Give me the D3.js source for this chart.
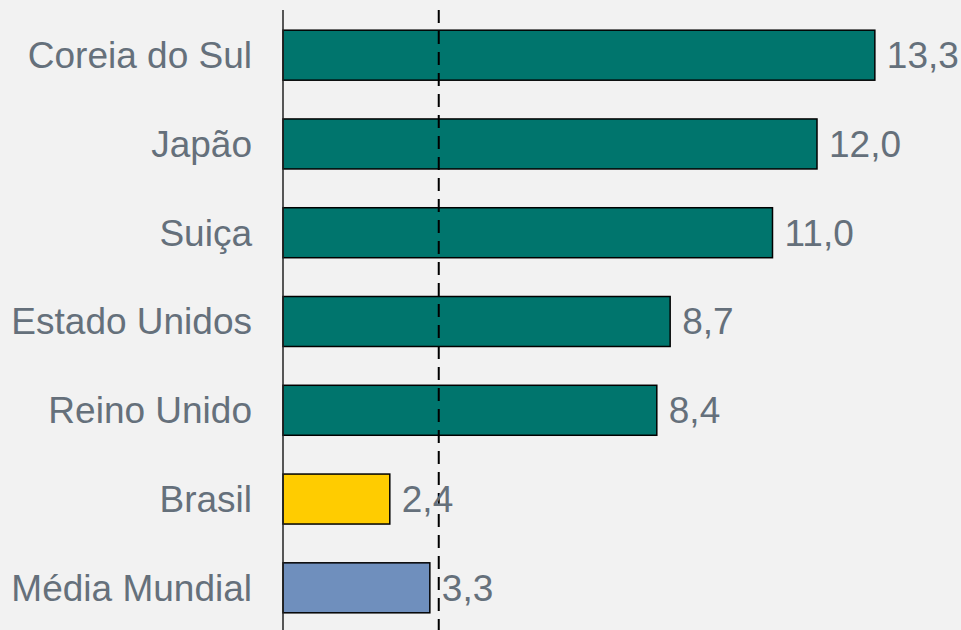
<!DOCTYPE html>
<html>
<head>
<meta charset="utf-8">
<script src="https://cdn.jsdelivr.net/npm/d3@7"></script>
<style>
  body { margin: 0; background: #f2f2f2; }
  svg { display: block; }
</style>
</head>
<body>
<div id="chart"></div>
<script>
var countries = ["Coreia do Sul", "Japão", "Suiça", "Estado Unidos", "Reino Unido", "Brasil", "Média Mundial"];
var values = [13.3, 12.0, 11.0, 8.7, 8.4, 2.4, 3.3];
var barColors = ["#00756d", "#00756d", "#00756d", "#00756d", "#00756d", "#ffcc00", "#6f8fbd"];
var referenceValue = 3.5;

var width = 961, height = 630;

var data = countries.map(function(c, i) {
    return { name: c, value: values[i], color: barColors[i] };
});

var svg = d3.select("#chart").append("svg")
    .attr("width", width)
    .attr("height", height);

svg.append("rect")
    .attr("width", width)
    .attr("height", height)
    .attr("fill", "#f2f2f2");

var x = d3.scaleLinear()
    .domain([0, 14])
    .range([283, 906]);

var y = d3.scaleBand()
    .domain(countries)
    .range([8, 635])
    .paddingInner(0.437)
    .paddingOuter(0.25);

// bars
svg.selectAll(".bar")
    .data(data)
    .enter().append("rect")
    .attr("class", "bar")
    .attr("x", x(0))
    .attr("y", function(d) { return y(d.name); })
    .attr("width", function(d) { return x(d.value) - x(0); })
    .attr("height", y.bandwidth())
    .attr("fill", function(d) { return d.color; })
    .attr("stroke", "#000")
    .attr("stroke-width", 1.5);

// dashed reference line
svg.append("line")
    .attr("x1", x(referenceValue))
    .attr("x2", x(referenceValue))
    .attr("y1", 10)
    .attr("y2", height)
    .attr("stroke", "#000")
    .attr("stroke-width", 2)
    .attr("stroke-dasharray", "13,8");

// axis line
svg.append("line")
    .attr("x1", x(0))
    .attr("x2", x(0))
    .attr("y1", 10)
    .attr("y2", height)
    .attr("stroke", "#222")
    .attr("stroke-width", 1.5);

// category labels
svg.selectAll(".label")
    .data(data)
    .enter().append("text")
    .attr("class", "label")
    .attr("x", x(0) - 31)
    .attr("y", function(d) { return y(d.name) + y.bandwidth() / 2; })
    .attr("dy", "0.35em")
    .attr("text-anchor", "end")
    .style("font-family", "'Liberation Sans', Arial, sans-serif")
    .style("font-size", "37px")
    .style("fill", "#65707b")
    .text(function(d) { return d.name; });

// value labels
var fmt = function(v) { return v.toFixed(1).replace(".", ","); };
svg.selectAll(".value")
    .data(data)
    .enter().append("text")
    .attr("class", "value")
    .attr("x", function(d) { return x(d.value) + 12; })
    .attr("y", function(d) { return y(d.name) + y.bandwidth() / 2; })
    .attr("dy", "0.35em")
    .style("font-family", "'Liberation Sans', Arial, sans-serif")
    .style("font-size", "37px")
    .style("fill", "#65707b")
    .text(function(d) { return fmt(d.value); });
</script>
</body>
</html>
